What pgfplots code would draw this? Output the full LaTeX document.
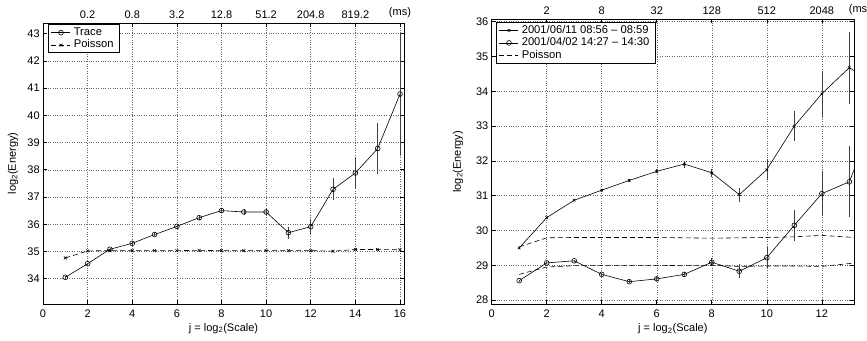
\documentclass[border=0pt]{standalone}
\usepackage{fontspec}
\setmainfont{Liberation Sans}
\usepackage{pgfplots}
\pgfplotsset{compat=1.18}
\begin{document}
\fontsize{11}{13}\selectfont
\begin{tikzpicture}
\pgfplotsset{
  mystyle/.style={
    scale only axis, anchor=south west,
    font=\fontsize{11}{13}\selectfont,
    /pgf/number format/assume math mode=true,
    grid=major,
    major grid style={dotted, black!60, line width=0.5pt},
    axis line style={line width=0.8pt},
    tick style={black, line width=0.6pt},
    major tick length=4pt,
    tick align=inside,
    xticklabel style={yshift=-2pt},
    yticklabel style={xshift=0.5pt},
    legend style={draw=black, line width=1pt, font=\fontsize{11.2}{13}\selectfont,
      inner xsep=3pt, inner ysep=1.5pt, row sep=0pt, cells={anchor=west},
      nodes={font=\fontsize{11.2}{13}\selectfont, scale=1, transform shape=false,
        inner xsep=3pt, inner ysep=1pt, text height=8pt, text depth=2.5pt}},
    legend cell align=left,
    legend image code/.code={%
      \draw[mark repeat=2,mark phase=2,##1] plot coordinates {(0pt,0pt) (9.5pt,0pt) (19pt,0pt)};},
  },
  topstyle/.style={
    scale only axis, anchor=south west,
    font=\fontsize{11}{13}\selectfont,
    axis x line*=top, axis y line=none,
    ymin=0, ymax=1,
    xtick style={draw=none},
    axis line style={draw=none},
    xticklabel style={yshift=1pt},
    clip=false,
  },
  ebar/.style={error bars/.cd, y dir=both, y explicit,
    error bar style={line width=0.6pt, black!75}, error mark=none},
}

% ---------------- Left plot ----------------
\begin{axis}[mystyle, at={(43pt,36pt)}, width=361pt, height=281pt,
  xmin=0, xmax=16.18, ymin=33.07, ymax=43.39,
  xtick={0,2,...,16}, ytick={34,...,43},
  xlabel={j = log\textsubscript{2}(Scale)},
  xlabel style={yshift=2pt},
  ylabel={log\textsubscript{2}(Energy)},
  ylabel style={at={([xshift=-30pt]rel axis cs:0,0.5)}, anchor=center},
  legend style={at={(rel axis cs:0.013,0.995)}, anchor=north west},
]
\addplot[black, line width=0.6pt, mark=o, mark size=2.4pt, mark options={solid}, ebar]
  table[x=x, y=y, y error=e] {
x y e
1 34.05 0.03
2 34.55 0.03
3 35.08 0.05
4 35.30 0.05
5 35.62 0.05
6 35.92 0.06
7 36.24 0.07
8 36.50 0.09
9 36.45 0.10
10 36.45 0.12
11 35.69 0.22
12 35.91 0.27
13 37.28 0.40
14 37.88 0.60
15 38.78 0.95
16 40.78 2.25
};
\addlegendentry{Trace}
\addplot[black, line width=0.6pt, dash pattern=on 5pt off 3pt, mark=x, mark size=2pt, mark options={solid}]
  table[x=x, y=y] {
x y
1 34.76
2 35.02
3 35.03
4 35.03
5 35.03
6 35.03
7 35.04
8 35.03
9 35.03
10 35.03
11 35.03
12 35.03
13 35.01
14 35.07
15 35.07
16 35.06
};
\addlegendentry{Poisson}
\end{axis}
\begin{axis}[topstyle, at={(43pt,36pt)}, width=361pt, height=281pt,
  xmin=0, xmax=16.18,
  xtick={2,4,...,16},
  xticklabels={0.2,0.8,3.2,12.8,51.2,204.8,819.2,(ms)},
]
\end{axis}

% ---------------- Right plot ----------------
\begin{axis}[mystyle, at={(491.7pt,35.7pt)}, width=362.3pt, height=285pt,
  xmin=0, xmax=13.17, ymin=27.88, ymax=36.07,
  xtick={0,2,...,12}, ytick={28,...,36},
  xlabel={j = log\textsubscript{2}(Scale)},
  xlabel style={yshift=2pt},
  ylabel={log\textsubscript{2}(Energy)},
  ylabel style={at={([xshift=-33.7pt]rel axis cs:0,0.5)}, anchor=center},
  legend style={at={(rel axis cs:0.011,0.99)}, anchor=north west},
]
\addplot[black, line width=0.6pt, mark=x, mark size=1.8pt, mark options={solid}, ebar]
  table[x=x, y=y, y error=e] {
x y e
1 29.50 0.02
2 30.37 0.03
3 30.87 0.03
4 31.16 0.04
5 31.44 0.04
6 31.70 0.06
7 31.91 0.10
8 31.66 0.12
9 31.03 0.20
10 31.75 0.30
11 33.00 0.44
12 33.93 0.66
13 34.68 1.03
14 34.18 1.5
};
\addlegendentry{2001/06/11 08:56 -- 08:59}
\addplot[black, line width=0.6pt, mark=o, mark size=2.4pt, mark options={solid}, ebar]
  table[x=x, y=y, y error=e] {
x y e
1 28.56 0.02
2 29.07 0.03
3 29.13 0.03
4 28.74 0.04
5 28.53 0.04
6 28.61 0.05
7 28.74 0.08
8 29.09 0.12
9 28.83 0.20
10 29.22 0.30
11 30.15 0.44
12 31.06 0.65
13 31.40 1.02
14 33.40 1.5
};
\addlegendentry{2001/04/02 14:27 -- 14:30}
\addplot[black, line width=0.6pt, dash pattern=on 5pt off 3pt]
  table[x=x, y=y] {
x y
1 29.53
2 29.79
3 29.80
4 29.80
5 29.80
6 29.80
7 29.79
8 29.78
9 29.79
10 29.80
11 29.82
12 29.86
13 29.81
14 29.70
};
\addlegendentry{Poisson}
\addplot[black, line width=0.6pt, dash pattern=on 5pt off 3pt, forget plot]
  table[x=x, y=y] {
x y
1 28.74
2 28.95
3 28.99
4 28.99
5 28.99
6 28.99
7 29.00
8 29.00
9 28.97
10 28.98
11 28.98
12 28.97
13 29.05
14 29.10
};
\end{axis}
\begin{axis}[topstyle, at={(491.7pt,35.7pt)}, width=362.3pt, height=285pt,
  xmin=0, xmax=13.17,
  xtick={2,4,...,12},
  xticklabels={2,8,32,128,512,2048},
]
\node[anchor=base west, font=\fontsize{11}{13}\selectfont] at ([xshift=-9pt,yshift=7pt]rel axis cs:1,1) {(ms)};
\end{axis}

\pgfresetboundingbox
\useasboundingbox (0pt,0pt) rectangle (867pt,340pt);
\end{tikzpicture}
\end{document}
